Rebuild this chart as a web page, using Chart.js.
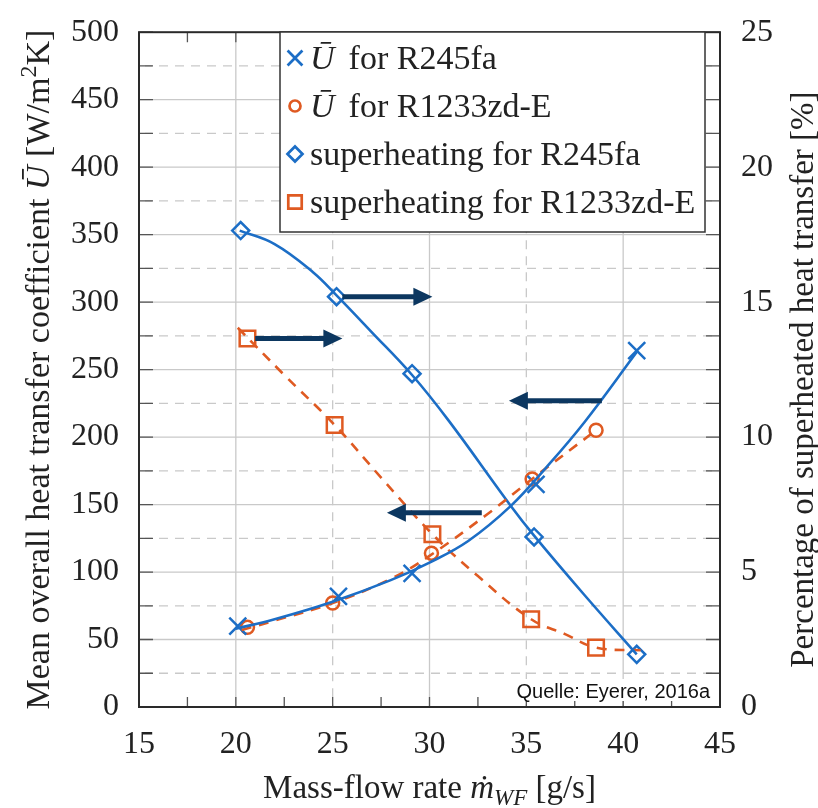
<!DOCTYPE html>
<html>
<head>
<meta charset="utf-8">
<script src="https://cdn.jsdelivr.net/npm/chart.js@4.4.0/dist/chart.umd.min.js"></script>
<style>
  body { margin: 0; background: #fff; }
</style>
</head>
<body>
<canvas id="chart" width="818" height="808"></canvas>
<script>
// measured points (mass flow g/s, U in W/m2K, superheating in %)
var flowUR245fa = [20.1, 25.3, 29.1, 35.5, 40.7];
var uR245fa = [60, 82, 99, 165, 264];
var flowUR1233 = [20.6, 25.0, 30.1, 35.3, 38.6];
var uR1233 = [59, 77, 114, 169, 205];
var flowShR245fa = [20.25, 25.2, 29.1, 35.4, 40.7];
var shR245fa = [17.65, 15.2, 12.35, 6.3, 1.95];
var flowShR1233 = [20.6, 25.1, 30.15, 35.25, 38.6];
var shR1233 = [13.65, 10.45, 6.4, 3.25, 2.2];

// fitted curves
var fitUR245faX = [20.0, 22, 25, 28, 30, 32, 34.2, 36, 38, 40.7];
var fitUR245faY = [58, 65, 78, 94, 107, 123, 149, 177, 211, 263];
var fitUR1233X = [20.3, 22, 25, 28, 30, 33, 35.3, 38.6];
var fitUR1233Y = [57, 64, 77, 95, 112, 143, 169, 205];
var fitShR245faX = [20.2, 22, 24, 25.2, 27, 29.1, 31, 34.2, 35.4, 38, 40.7];
var fitShR245faY = [17.65, 17.15, 16.1, 15.25, 13.9, 12.3, 10.6, 7.45, 6.35, 4.15, 1.95];
var fitShR1233X = [20.1, 22.5, 25.1, 27.5, 30.15, 32.5, 35.25, 37, 38.6, 40.9];
var fitShR1233Y = [14.05, 12.3, 10.45, 8.5, 6.4, 4.85, 3.25, 2.7, 2.2, 2.1];

// arrows pointing to the axis each curve belongs to (x in g/s, y in W/m2K)
var arrowFrom = [[25.5, 304], [21.0, 273], [38.9, 227], [32.7, 144]];
var arrowTo = [[30.15, 304], [25.5, 273], [34.1, 227], [27.8, 144]];

var legendLabels = ['for R245fa', 'for R1233zd-E', 'superheating for R245fa', 'superheating for R1233zd-E'];

var BLUE = '#1c6ec6';
var RED = '#df5a22';
var SERIF = '"Liberation Serif", "DejaVu Serif", serif';

function pts(xs, ys) {
  return xs.map(function (x, i) { return { x: x, y: ys[i] }; });
}

function fitLine(xs, ys, color, dash, axis) {
  return {
    data: pts(xs, ys), yAxisID: axis, showLine: true, borderColor: color,
    borderWidth: 2.6, borderDash: dash, pointRadius: 0, tension: 0.4
  };
}

function markers(xs, ys, color, style, r, axis) {
  return {
    data: pts(xs, ys), yAxisID: axis, showLine: false, pointStyle: style,
    pointRadius: r, pointBorderColor: color, pointBackgroundColor: 'rgba(0,0,0,0)',
    pointBorderWidth: 2.5
  };
}

function fontOf(p, size) {
  return (p.i ? 'italic ' : '') + Math.round(size * (p.s || 1)) + 'px ' + SERIF;
}

function richText(ctx, parts, x, y, size, rot) {
  ctx.save();
  ctx.translate(x, y);
  ctx.rotate(rot);
  var total = 0;
  parts.forEach(function (p) {
    ctx.font = fontOf(p, size);
    p.w = ctx.measureText(p.t).width;
    total += p.w;
  });
  var cx = -total / 2;
  ctx.fillStyle = '#222';
  ctx.textAlign = 'left';
  ctx.textBaseline = 'alphabetic';
  parts.forEach(function (p) {
    ctx.font = fontOf(p, size);
    ctx.fillText(p.t, cx, (p.dy || 0) * size);
    cx += p.w;
  });
  ctx.restore();
}

function drawMarker(ctx, style, x, y, r) {
  ctx.beginPath();
  if (style === 'crossRot') {
    var d = r * Math.SQRT1_2;
    ctx.moveTo(x - d, y - d); ctx.lineTo(x + d, y + d);
    ctx.moveTo(x + d, y - d); ctx.lineTo(x - d, y + d);
  } else if (style === 'circle') {
    ctx.arc(x, y, r, 0, Math.PI * 2);
  } else if (style === 'rectRot') {
    ctx.moveTo(x - r, y); ctx.lineTo(x, y - r); ctx.lineTo(x + r, y); ctx.lineTo(x, y + r); ctx.closePath();
  } else {
    var s = r * Math.SQRT1_2;
    ctx.rect(x - s, y - s, 2 * s, 2 * s);
  }
  ctx.stroke();
}

var gridPlugin = {
  id: 'grid',
  beforeDatasetsDraw: function (chart) {
    var ctx = chart.ctx, a = chart.chartArea, xs = chart.scales.x, ys = chart.scales.y;
    ctx.save();
    ctx.strokeStyle = '#c9c9c9';
    ctx.lineWidth = 1.3;
    xs.ticks.forEach(function (t) {
      if (t.value <= xs.min || t.value >= xs.max) return;
      var px = xs.getPixelForValue(t.value);
      ctx.setLineDash(t.value % 10 === 0 ? [] : [9, 7]);
      ctx.beginPath(); ctx.moveTo(px, a.top); ctx.lineTo(px, a.bottom); ctx.stroke();
    });
    var step = ys.ticks[1].value - ys.ticks[0].value;
    ys.ticks.forEach(function (t) {
      var py;
      if (t.value > ys.min && t.value < ys.max) {
        py = ys.getPixelForValue(t.value);
        ctx.setLineDash([]);
        ctx.beginPath(); ctx.moveTo(a.left, py); ctx.lineTo(a.right, py); ctx.stroke();
      }
      if (t.value < ys.max) {
        py = ys.getPixelForValue(t.value + step / 2);
        ctx.setLineDash([9, 7]);
        ctx.lineDashOffset = -14;
        ctx.beginPath(); ctx.moveTo(a.left + 6, py); ctx.lineTo(a.right, py); ctx.stroke();
        ctx.lineDashOffset = 0;
      }
    });
    ctx.restore();
  },
  afterDatasetsDraw: function (chart) {
    var ctx = chart.ctx, a = chart.chartArea, xs = chart.scales.x, ys = chart.scales.y;
    ctx.save();
    // tick marks inside the frame
    ctx.strokeStyle = '#555';
    ctx.lineWidth = 1.3;
    ctx.setLineDash([]);
    var xstep = (xs.ticks[1].value - xs.ticks[0].value) / 2;
    for (var v = xs.min; v <= xs.max; v += xstep) {
      var px = xs.getPixelForValue(v);
      ctx.beginPath();
      ctx.moveTo(px, a.bottom); ctx.lineTo(px, a.bottom - 10);
      ctx.moveTo(px, a.top); ctx.lineTo(px, a.top + 10);
      ctx.stroke();
    }
    var ystep = (ys.ticks[1].value - ys.ticks[0].value) / 2;
    for (var u = ys.min; u <= ys.max; u += ystep) {
      var py = ys.getPixelForValue(u);
      ctx.beginPath();
      ctx.moveTo(a.left, py); ctx.lineTo(a.left + 14, py);
      ctx.moveTo(a.right, py); ctx.lineTo(a.right - 14, py);
      ctx.stroke();
    }
    // frame
    ctx.strokeStyle = '#2a2a2a';
    ctx.lineWidth = 2;
    ctx.strokeRect(a.left, a.top, a.right - a.left, a.bottom - a.top);

    // arrows
    ctx.fillStyle = '#0c3760';
    ctx.strokeStyle = '#0c3760';
    ctx.lineWidth = 5;
    arrowFrom.forEach(function (f, i) {
      var x0 = xs.getPixelForValue(f[0]), y0 = ys.getPixelForValue(f[1]);
      var x1 = xs.getPixelForValue(arrowTo[i][0]), y1 = ys.getPixelForValue(arrowTo[i][1]);
      var ang = Math.atan2(y1 - y0, x1 - x0), hl = 19, hw = 9;
      var bx = x1 - Math.cos(ang) * hl, by = y1 - Math.sin(ang) * hl;
      ctx.beginPath(); ctx.moveTo(x0, y0); ctx.lineTo(bx + Math.cos(ang) * 2, by + Math.sin(ang) * 2); ctx.stroke();
      ctx.beginPath();
      ctx.moveTo(x1, y1);
      ctx.lineTo(bx - Math.sin(ang) * hw, by + Math.cos(ang) * hw);
      ctx.lineTo(bx + Math.sin(ang) * hw, by - Math.cos(ang) * hw);
      ctx.closePath(); ctx.fill();
    });

    // legend box
    var lx = 280, ly = 32, lw = 425, lh = 200;
    ctx.fillStyle = '#fff';
    ctx.fillRect(lx, ly, lw, lh);
    ctx.strokeStyle = '#333';
    ctx.lineWidth = 1.5;
    ctx.strokeRect(lx, ly, lw, lh);
    var styles = [['crossRot', BLUE, 10.5], ['circle', RED, 5.5], ['rectRot', BLUE, 7.5], ['rect', RED, 9.5]];
    styles.forEach(function (s, i) {
      var cy = 58 + i * 48;
      ctx.strokeStyle = s[1];
      ctx.lineWidth = 2.7;
      drawMarker(ctx, s[0], 295, cy, s[2]);
      ctx.fillStyle = '#222';
      ctx.textBaseline = 'middle';
      ctx.textAlign = 'left';
      var tx = 310;
      if (i < 2) {
        ctx.font = 'italic 34px ' + SERIF;
        ctx.fillText('\u016A', tx, cy + 2);
        tx += ctx.measureText('\u016A').width + 14;
      }
      ctx.font = '34px ' + SERIF;
      ctx.fillText(legendLabels[i], tx, cy + 2);
    });

    // source note
    ctx.font = '20px "Liberation Sans", Arial, sans-serif';
    var note = 'Quelle: Eyerer, 2016a';
    var nw = ctx.measureText(note).width;
    ctx.fillStyle = '#fff';
    ctx.fillRect(a.right - nw - 14, a.bottom - 28, nw + 12, 22);
    ctx.fillStyle = '#111';
    ctx.textAlign = 'right';
    ctx.textBaseline = 'alphabetic';
    ctx.fillText(note, a.right - 10, a.bottom - 9);

    // axis titles
    var midY = (a.top + a.bottom) / 2, midX = (a.left + a.right) / 2;
    richText(ctx, [
      { t: 'Mean overall heat transfer coefficient ' }, { t: '\u016A', i: true },
      { t: ' [W/m' }, { t: '2', s: 0.7, dy: -0.38 }, { t: 'K]' }
    ], 49, midY, 34, -Math.PI / 2);
    richText(ctx, [{ t: 'Percentage of superheated heat transfer [%]' }], 813, midY + 10, 33, -Math.PI / 2);
    richText(ctx, [
      { t: 'Mass-flow rate ' }, { t: '\u1E41', i: true }, { t: 'WF', i: true, s: 0.7, dy: 0.2 },
      { t: ' [g/s]' }
    ], midX, 798, 33, 0);
    ctx.restore();
  }
};

var tickFont = { family: SERIF, size: 32 };

new Chart(document.getElementById('chart'), {
  type: 'scatter',
  data: {
    datasets: [
      fitLine(fitUR245faX, fitUR245faY, BLUE, [], 'y'),
      fitLine(fitUR1233X, fitUR1233Y, RED, [10, 8], 'y'),
      fitLine(fitShR245faX, fitShR245faY, BLUE, [], 'y2'),
      fitLine(fitShR1233X, fitShR1233Y, RED, [10, 8], 'y2'),
      markers(flowUR245fa, uR245fa, BLUE, 'crossRot', 12, 'y'),
      markers(flowUR1233, uR1233, RED, 'circle', 6.5, 'y'),
      markers(flowShR245fa, shR245fa, BLUE, 'rectRot', 8.5, 'y2'),
      markers(flowShR1233, shR1233, RED, 'rect', 11, 'y2')
    ]
  },
  options: {
    responsive: false,
    animation: false,
    layout: { padding: { top: 22, right: 0, left: 0, bottom: 0 } },
    plugins: { legend: { display: false }, tooltip: { enabled: false } },
    scales: {
      x: {
        type: 'linear', min: 15, max: 45,
        ticks: { stepSize: 5, font: tickFont, color: '#222', padding: 10 },
        grid: { display: false }, border: { display: false },
        afterFit: function (s) { s.height = 101; }
      },
      y: {
        position: 'left', min: 0, max: 500,
        ticks: { stepSize: 50, font: tickFont, color: '#222', padding: 12 },
        grid: { display: false }, border: { display: false },
        afterFit: function (s) { s.width = 139; }
      },
      y2: {
        position: 'right', min: 0, max: 25,
        ticks: { stepSize: 5, font: tickFont, color: '#222', padding: 13 },
        grid: { display: false }, border: { display: false },
        afterFit: function (s) { s.width = 98; }
      }
    }
  },
  plugins: [gridPlugin]
});
</script>
</body>
</html>
